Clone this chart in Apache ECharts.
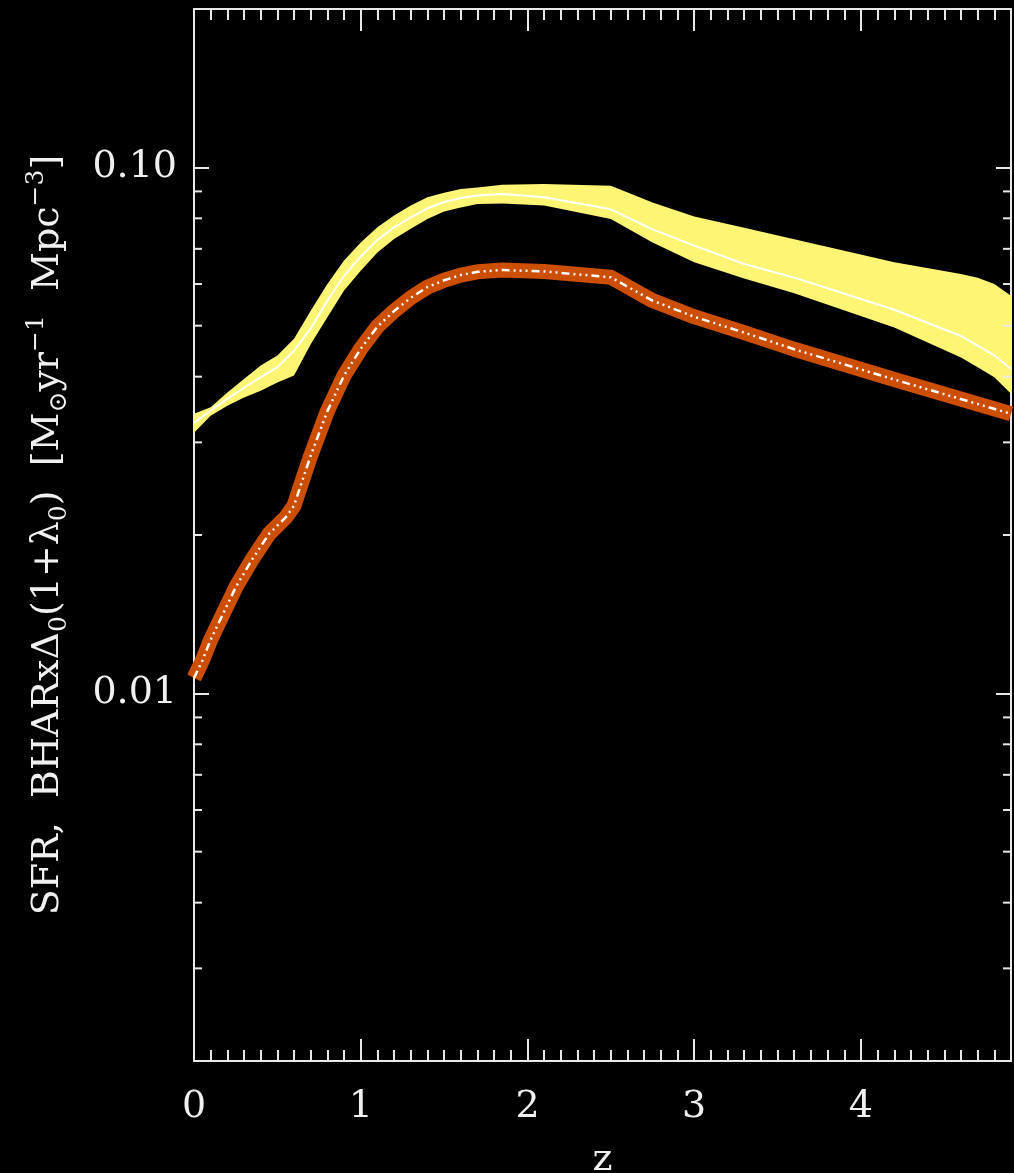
<!DOCTYPE html>
<html><head><meta charset="utf-8">
<script src="https://cdn.jsdelivr.net/npm/echarts@6/dist/echarts.min.js"></script>
<style>html,body{margin:0;padding:0;background:#000;}#c{width:1014px;height:1173px;}</style>
</head><body><div id="c"></div>
<script>
// ---- data ----
const zBand = [0, 0.1, 0.2, 0.3, 0.4, 0.5, 0.6, 0.7, 0.8, 0.9, 1.0, 1.1, 1.2, 1.3, 1.4, 1.5, 1.6, 1.7, 1.85, 2.1, 2.5, 2.75, 3.0, 3.3, 3.6, 4.2, 4.6, 4.7, 4.8, 4.9];
const sfrUpper = [0.0340, 0.0350, 0.0373, 0.0396, 0.0420, 0.0439, 0.0472, 0.0534, 0.0600, 0.0665, 0.0720, 0.0769, 0.0810, 0.0846, 0.0877, 0.0895, 0.0910, 0.0916, 0.0927, 0.0930, 0.0923, 0.0857, 0.0806, 0.0768, 0.0730, 0.0660, 0.0627, 0.0617, 0.0600, 0.0570];
const sfrLower = [0.0313, 0.0337, 0.0352, 0.0365, 0.0376, 0.0390, 0.0402, 0.0461, 0.0519, 0.0583, 0.0636, 0.0689, 0.0731, 0.0764, 0.0798, 0.0824, 0.0839, 0.0852, 0.0854, 0.0846, 0.0798, 0.0720, 0.0660, 0.0615, 0.0576, 0.0496, 0.0435, 0.0417, 0.0399, 0.0371];
const sfrMid   = [0.0327, 0.0345, 0.0363, 0.0381, 0.0399, 0.0417, 0.0448, 0.0494, 0.0558, 0.0622, 0.0677, 0.0728, 0.0769, 0.0803, 0.0836, 0.0859, 0.0874, 0.0884, 0.0890, 0.0877, 0.0832, 0.0762, 0.0710, 0.0655, 0.0617, 0.0536, 0.0478, 0.0458, 0.0439, 0.0414];

const zBhar = [0, 0.05, 0.1, 0.15, 0.25, 0.35, 0.45, 0.55, 0.6, 0.65, 0.7, 0.8, 0.9, 1.0, 1.1, 1.2, 1.3, 1.4, 1.5, 1.6, 1.7, 1.85, 2.1, 2.5, 2.75, 3.0, 3.3, 3.6, 4.2, 4.9];
const bharMid = [0.0107, 0.01153, 0.01265, 0.01365, 0.0159, 0.0180, 0.0201, 0.0216, 0.02275, 0.0254, 0.0283, 0.0344, 0.0402, 0.0452, 0.0498, 0.0533, 0.0565, 0.0592, 0.0610, 0.0624, 0.0633, 0.0638, 0.0634, 0.0618, 0.0558, 0.0520, 0.0485, 0.0451, 0.0395, 0.0340];

const xTickLabels = ['0', '1', '2', '3', '4'];
const yTickValues = [0.01, 0.1];
const yTickLabels = ['0.01', '0.10'];
const yMinorTicks = [0.003, 0.004, 0.005, 0.006, 0.007, 0.008, 0.009, 0.02, 0.03, 0.04, 0.05, 0.06, 0.07, 0.08, 0.09];

const X_MIN = 0, X_MAX = 4.9, Y_MIN = 0.002, Y_MAX = 0.2;

// ---- styles ----
const AX = '#e8e8e8';
const FONT = 'DejaVu Serif';
const YELLOW = '#fff574';
const ORANGE = '#cc4e00';

const chart = echarts.init(document.getElementById('c'), null, {renderer: 'canvas'});

function xAxisCfg(pos, labels) {
  return {
    type: 'value', position: pos, min: X_MIN, max: X_MAX, interval: 1,
    axisLine: {show: true, onZero: false, lineStyle: {color: AX, width: 2}},
    axisTick: {show: true, inside: true, length: 22, lineStyle: {color: AX, width: 2}},
    minorTick: {show: true, splitNumber: 10, length: 11, lineStyle: {color: AX, width: 2}},
    splitLine: {show: false}, minorSplitLine: {show: false},
    axisLabel: labels ? {
      show: true, margin: 27, color: '#f0f0f0', fontFamily: FONT, fontSize: 38,
      showMaxLabel: false,
      formatter: v => { const i = Math.round(v); return Math.abs(v - i) < 1e-6 && xTickLabels[i] !== undefined ? xTickLabels[i] : ''; }
    } : {show: false},
    name: labels ? 'z' : '', nameLocation: 'middle', nameGap: 80,
    nameTextStyle: {color: '#f0f0f0', fontFamily: FONT, fontSize: 38}
  };
}
function yAxisCfg(pos, labels) {
  return {
    type: 'log', logBase: 10, position: pos, min: Y_MIN, max: Y_MAX, splitNumber: 2,
    axisLine: {show: true, onZero: false, lineStyle: {color: AX, width: 2}},
    axisTick: {show: true, inside: true, length: 15, lineStyle: {color: AX, width: 2}},
    minorTick: {show: false}, splitLine: {show: false},
    axisLabel: labels ? {
      show: true, margin: 17, color: '#f0f0f0', fontFamily: FONT, fontSize: 38,
      formatter: v => { for (let i = 0; i < yTickValues.length; i++) { if (Math.abs(Math.log10(v) - Math.log10(yTickValues[i])) < 1e-6) return yTickLabels[i]; } return ''; }
    } : {show: false},
    name: labels ? '{b|SFR,  BHARx\u0394}{sub|0}{b|(1+\u03bb}{sub|0}{b|)  [M}{sub|\u2299}{b|yr}{sup|\u22121}{b|  Mpc}{sup|\u22123}{b|]}' : '',
    nameLocation: 'middle', nameGap: 122, nameRotate: 90,
    nameTextStyle: {
      color: '#f0f0f0', fontFamily: FONT, fontSize: 38,
      rich: {
        b: {color: '#f0f0f0', fontFamily: FONT, fontSize: 38, lineHeight: 48},
        sub: {color: '#f0f0f0', fontFamily: FONT, fontSize: 25, lineHeight: 48, verticalAlign: 'bottom'},
        sup: {color: '#f0f0f0', fontFamily: FONT, fontSize: 25, lineHeight: 48, verticalAlign: 'top'}
      }
    }
  };
}

const option = {
  backgroundColor: '#000',
  animation: false,
  grid: {left: 194, right: 3, top: 9, bottom: 112, containLabel: false, outerBoundsMode: 'none'},
  xAxis: [xAxisCfg('bottom', true), xAxisCfg('top', false)],
  yAxis: [yAxisCfg('left', true), yAxisCfg('right', false)],
  series: [
    {
      type: 'custom', name: 'SFR band', xAxisIndex: 0, yAxisIndex: 0, z: 1,
      data: zBand.map((z, i) => [z, sfrUpper[i], sfrLower[i]]),
      encode: {x: 0, y: [1, 2]},
      renderItem: (params, api) => {
        if (params.dataIndex !== 0) return null;
        const pts = [];
        for (let i = 0; i < zBand.length; i++) pts.push(api.coord([zBand[i], sfrUpper[i]]));
        for (let i = zBand.length - 1; i >= 0; i--) pts.push(api.coord([zBand[i], sfrLower[i]]));
        return {type: 'polygon', shape: {points: pts}, style: {fill: YELLOW, stroke: null}};
      },
      clip: true, silent: true
    },
    {
      type: 'line', name: 'SFR', xAxisIndex: 0, yAxisIndex: 0, z: 2,
      data: zBand.map((z, i) => [z, sfrMid[i]]),
      showSymbol: false, symbol: 'none',
      lineStyle: {color: '#ffffff', width: 2}
    },
    {
      type: 'line', name: 'BHAR band', xAxisIndex: 0, yAxisIndex: 0, z: 3,
      data: zBhar.map((z, i) => [z, bharMid[i]]),
      showSymbol: false, symbol: 'none',
      lineStyle: {color: ORANGE, width: 15, cap: 'butt', join: 'round'}
    },
    {
      type: 'line', name: 'BHAR', xAxisIndex: 0, yAxisIndex: 0, z: 4,
      data: zBhar.map((z, i) => [z, bharMid[i]]),
      showSymbol: false, symbol: 'none',
      lineStyle: {color: '#ffffff', width: 2.5, type: [8, 4, 2, 4, 2, 4, 2, 4]}
    },
    {
      type: 'custom', name: 'minor y ticks', xAxisIndex: 0, yAxisIndex: 0, z: 5,
      data: yMinorTicks.map(v => [X_MIN, v]),
      renderItem: (params, api) => {
        const v = api.value(1);
        const pL = api.coord([X_MIN, v]);
        const pR = api.coord([X_MAX, v]);
        return {type: 'group', children: [
          {type: 'line', shape: {x1: pL[0], y1: pL[1], x2: pL[0] + 8, y2: pL[1]}, style: {stroke: AX, lineWidth: 2}},
          {type: 'line', shape: {x1: pR[0], y1: pR[1], x2: pR[0] - 8, y2: pR[1]}, style: {stroke: AX, lineWidth: 2}}
        ]};
      },
      clip: false, silent: true
    }
  ]
};
chart.setOption(option);
</script>
</body></html>
